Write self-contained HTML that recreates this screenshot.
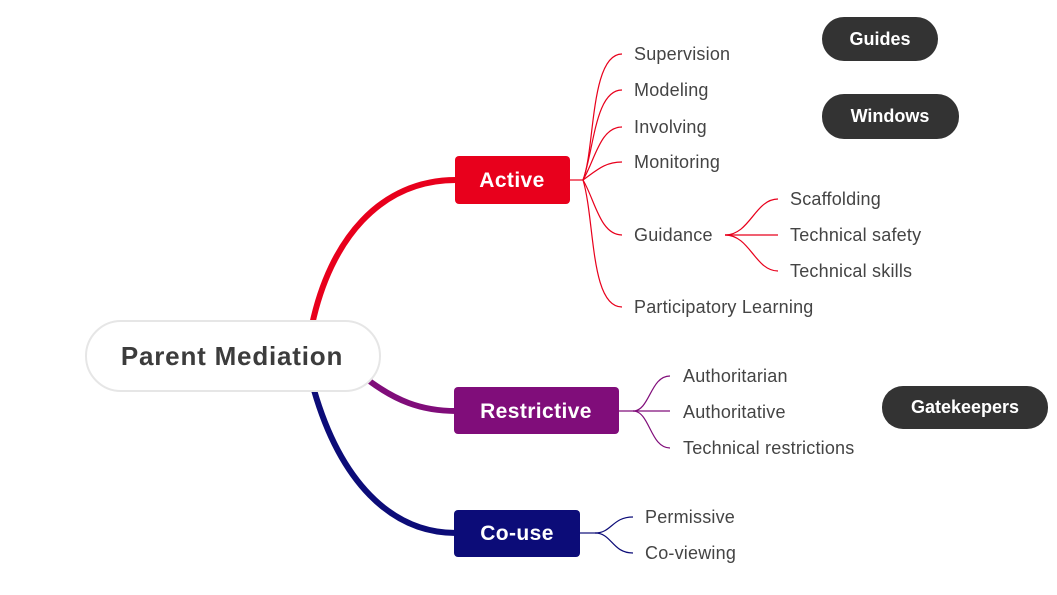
<!DOCTYPE html>
<html><head><meta charset="utf-8"><style>
body{margin:0;width:1057px;height:590px;background:#fff;overflow:hidden}
svg text{font-family:"Liberation Sans",sans-serif}
</style></head><body>
<svg width="1057" height="590" viewBox="0 0 1057 590" xmlns="http://www.w3.org/2000/svg">
<path d="M312 325 C330 240 380 180 456 180" fill="none" stroke="#e8001c" stroke-width="6"/>
<path d="M368 380 C395 400 420 411 456 411" fill="none" stroke="#800d7a" stroke-width="6"/>
<path d="M314 390 C340 480 390 533 456 533" fill="none" stroke="#0c0c78" stroke-width="6"/>
<rect x="86" y="321" width="294" height="70" rx="35" fill="#fff" stroke="#e6e6e6" stroke-width="2"/>
<text x="232" y="365" font-size="26" font-weight="bold" fill="#3c3c3c" text-anchor="middle" letter-spacing="0.8">Parent Mediation</text>
<g fill="none" stroke="#e8001c" stroke-width="1.2">
<path d="M570 180 H583"/>
<path d="M583 180 C595 150 590 54 622 54"/>
<path d="M583 180 C594 150 595 90 622 90"/>
<path d="M583 180 C595 160 600 127 622 127"/>
<path d="M583 180 C597 170 605 162 622 162"/>
<path d="M583 180 C595 200 600 235 622 235"/>
<path d="M583 180 C595 220 590 307 622 307"/>
<path d="M725 235 H778"/>
<path d="M725 235 C750 235 755 199 778 199"/>
<path d="M725 235 C750 235 755 271 778 271"/>
</g>
<rect x="455" y="156" width="115" height="48" rx="4" fill="#e8001c"/>
<text x="512" y="187" font-size="21" font-weight="bold" fill="#fff" text-anchor="middle" letter-spacing="0.4">Active</text>
<g font-size="18" fill="#444" letter-spacing="0.2">
<text x="634" y="60">Supervision</text>
<text x="634" y="96">Modeling</text>
<text x="634" y="133">Involving</text>
<text x="634" y="168">Monitoring</text>
<text x="634" y="241">Guidance</text>
<text x="634" y="313">Participatory Learning</text>
<text x="790" y="205">Scaffolding</text>
<text x="790" y="241">Technical safety</text>
<text x="790" y="277">Technical skills</text>
<text x="683" y="382">Authoritarian</text>
<text x="683" y="418">Authoritative</text>
<text x="683" y="454">Technical restrictions</text>
<text x="645" y="523">Permissive</text>
<text x="645" y="559">Co-viewing</text>
</g>
<g fill="none" stroke="#800d7a" stroke-width="1.2">
<path d="M619 411 H670"/>
<path d="M633 411 C650 411 650 376 670 376"/>
<path d="M633 411 C650 411 650 448 670 448"/>
</g>
<rect x="454" y="387" width="165" height="47" rx="4" fill="#800d7a"/>
<text x="536" y="418" font-size="21" font-weight="bold" fill="#fff" text-anchor="middle" letter-spacing="0.4">Restrictive</text>
<g fill="none" stroke="#0c0c78" stroke-width="1.2">
<path d="M580 533 H595"/>
<path d="M595 533 C612 533 612 517 633 517"/>
<path d="M595 533 C612 533 612 553 633 553"/>
</g>
<rect x="454" y="510" width="126" height="47" rx="4" fill="#0c0c78"/>
<text x="517" y="540" font-size="21" font-weight="bold" fill="#fff" text-anchor="middle" letter-spacing="0.4">Co-use</text>
<rect x="822" y="17" width="116" height="44" rx="22" fill="#333"/>
<text x="880" y="45" font-size="18" font-weight="bold" fill="#fff" text-anchor="middle">Guides</text>
<rect x="822" y="94" width="137" height="45" rx="22" fill="#333"/>
<text x="890" y="122" font-size="18" font-weight="bold" fill="#fff" text-anchor="middle">Windows</text>
<rect x="882" y="386" width="166" height="43" rx="21" fill="#333"/>
<text x="965" y="413" font-size="18" font-weight="bold" fill="#fff" text-anchor="middle">Gatekeepers</text>
</svg>
</body></html>
